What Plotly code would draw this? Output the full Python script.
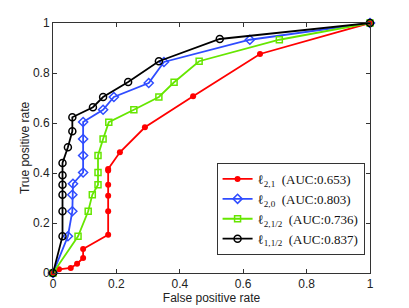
import plotly.graph_objects as go

names = ["ℓ<sub>2,1</sub>  (AUC:0.653)", "ℓ<sub>2,0</sub>  (AUC:0.803)",
         "ℓ<sub>2,1/2</sub>  (AUC:0.736)", "ℓ<sub>1,1/2</sub>  (AUC:0.837)"]

red_x = [0, 0.019, 0.056, 0.076, 0.095, 0.095, 0.174, 0.174, 0.174, 0.174, 0.174, 0.174, 0.211, 0.29, 0.442, 0.653, 1]
red_y = [0, 0.015, 0.02, 0.037, 0.06, 0.096, 0.153, 0.247, 0.309, 0.353, 0.41, 0.416, 0.483, 0.583, 0.707, 0.876, 1]

blue_x = [0, 0.047, 0.061, 0.061, 0.063, 0.095, 0.095, 0.095, 0.095, 0.158, 0.192, 0.302, 0.35, 0.621, 1]
blue_y = [0, 0.147, 0.247, 0.313, 0.357, 0.402, 0.47, 0.536, 0.604, 0.653, 0.704, 0.76, 0.844, 0.933, 1]

green_x = [0, 0.079, 0.111, 0.124, 0.142, 0.142, 0.142, 0.158, 0.176, 0.255, 0.334, 0.382, 0.461, 0.714, 1]
green_y = [0, 0.147, 0.247, 0.313, 0.353, 0.402, 0.47, 0.536, 0.603, 0.653, 0.704, 0.763, 0.847, 0.933, 1]

black_x = [0, 0.03, 0.03, 0.03, 0.03, 0.03, 0.03, 0.047, 0.061, 0.061, 0.126, 0.158, 0.237, 0.334, 0.526, 1]
black_y = [0, 0.147, 0.247, 0.313, 0.353, 0.391, 0.44, 0.503, 0.567, 0.623, 0.663, 0.704, 0.764, 0.847, 0.936, 1]

tick_vals = [0, 0.2, 0.4, 0.6, 0.8, 1]
tick_text = ["0", "0.2", "0.4", "0.6", "0.8", "1"]

fig = go.Figure()
fig.add_trace(go.Scatter(x=red_x, y=red_y, name=names[0], mode="lines+markers",
                         line=dict(color="#ff0000", width=1.8),
                         marker=dict(symbol="circle", size=6, color="#ff0000"),
                         cliponaxis=False))
fig.add_trace(go.Scatter(x=blue_x, y=blue_y, name=names[1], mode="lines+markers",
                         line=dict(color="#2f4cff", width=1.8),
                         marker=dict(symbol="diamond-open", size=7, color="#2f4cff", line=dict(width=1.5)),
                         cliponaxis=False))
fig.add_trace(go.Scatter(x=green_x, y=green_y, name=names[2], mode="lines+markers",
                         line=dict(color="#66e600", width=1.8),
                         marker=dict(symbol="square-open", size=6, color="#66e600", line=dict(width=1.5)),
                         cliponaxis=False))
fig.add_trace(go.Scatter(x=black_x, y=black_y, name=names[3], mode="lines+markers",
                         line=dict(color="#000000", width=1.8),
                         marker=dict(symbol="circle-open", size=7, color="#000000", line=dict(width=1.5)),
                         cliponaxis=False))

axis_common = dict(range=[0, 1], tickvals=tick_vals, ticktext=tick_text,
                   ticks="inside", ticklen=4, tickcolor="#333", tickwidth=1,
                   showline=True, linecolor="#333", linewidth=1, mirror="ticks",
                   showgrid=False, zeroline=False, automargin=False,
                   tickfont=dict(family="Liberation Sans, Arial", size=12, color="#222"))

fig.update_layout(
    width=409, height=308,
    margin=dict(l=53, r=39, t=23, b=35),
    paper_bgcolor="white", plot_bgcolor="white",
    xaxis=dict(**axis_common,
               title=dict(text="False positive rate", standoff=0,
                          font=dict(family="Liberation Sans, Arial", size=12, color="#222"))),
    yaxis=dict(**axis_common,
               title=dict(text="True positive rate", standoff=0,
                          font=dict(family="Liberation Sans, Arial", size=12, color="#222"))),
    legend=dict(x=0.516, y=0.44, xanchor="left", yanchor="top",
                bgcolor="white", bordercolor="#333", borderwidth=1,
                font=dict(family="Liberation Serif, Times New Roman", size=13, color="#111"),
                tracegroupgap=0),
    showlegend=True,
)

fig.write_html("out.html", config={"displayModeBar": False},
               post_script="document.body.style.margin='0';")
